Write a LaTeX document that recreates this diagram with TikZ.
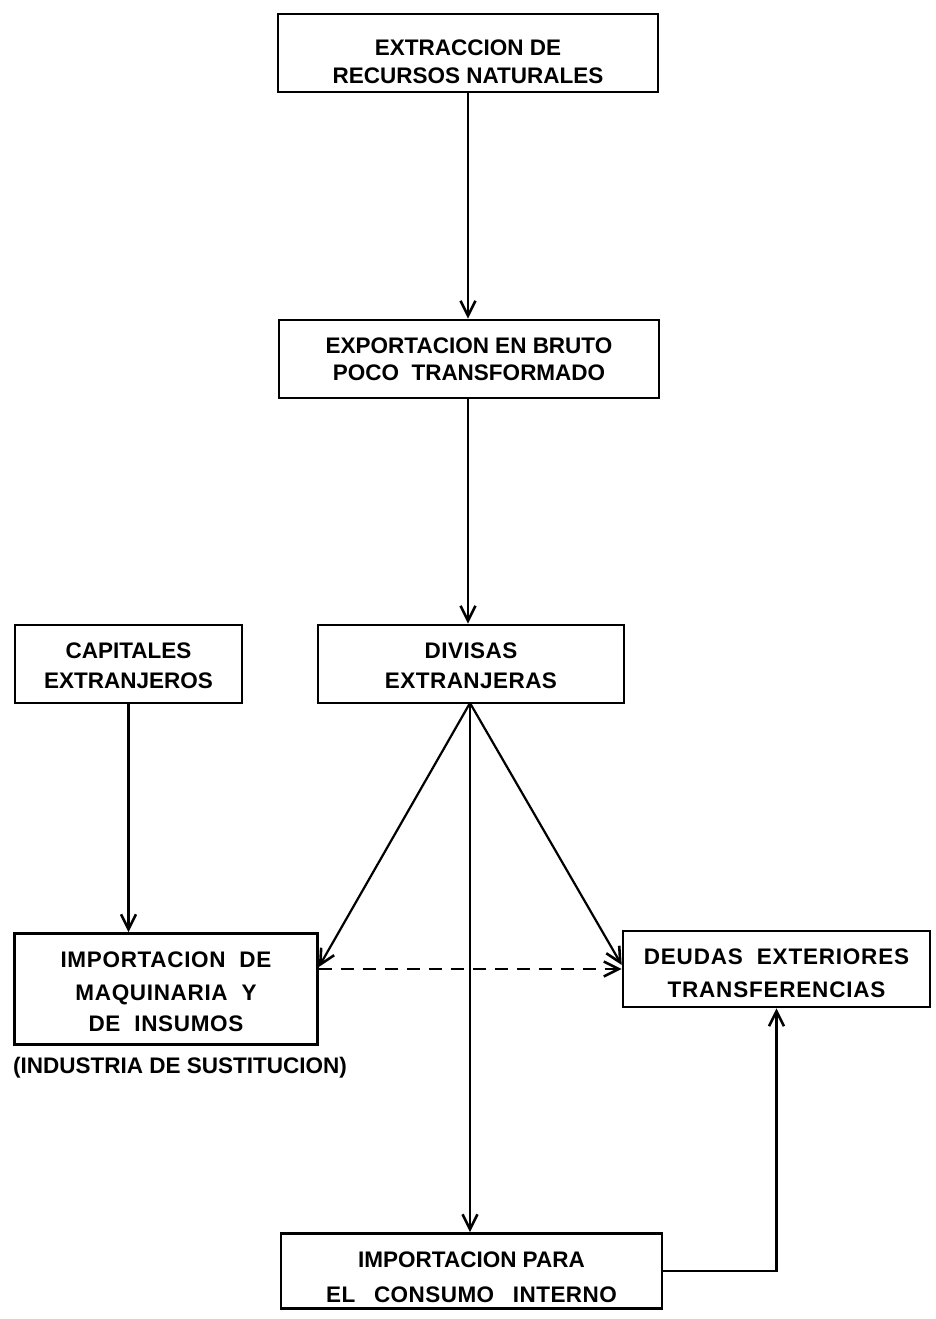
\documentclass[tikz,border=0pt]{standalone}
\usepackage{fontspec}
\setmainfont{Liberation Sans}
\usetikzlibrary{arrows.meta}
\newcommand{\dn}[1]{\rule{0pt}{\dimexpr 15.8pt+2\dimexpr #1\relax\relax}}
\begin{document}
\begin{tikzpicture}[x=1pt,y=-1pt,
  box/.style={draw,line width=2.6pt,align=center,inner sep=0pt,
    font=\fontsize{22.5}{27}\selectfont\bfseries},
  conn/.style={line width=2.2pt,-{Straight Barb[length=15pt,width=15pt,line width=2.6pt]}},
  dconn/.style={conn,dash pattern=on 13pt off 9pt}]
\useasboundingbox (0,0) rectangle (935,1319);
\node[box,minimum width=380,minimum height=78] (ext) at (468,53)
  {\dn{9pt}EXTRACCION DE\\[1pt]RECURSOS NATURALES};
\node[box,minimum width=380,minimum height=78] (exp) at (469,359)
  {EXPORTACION EN BRUTO\\POCO\ \ TRANSFORMADO};
\node[box,minimum width=227,minimum height=78] (cap) at (128.5,664)
  {\dn{2pt}CAPITALES\\[3pt]EXTRANJEROS};
\node[box,minimum width=306,minimum height=78] (div) at (471,664)
  {\dn{2pt}\addfontfeature{LetterSpace=2}DIVISAS\\[3pt]\addfontfeature{LetterSpace=2}EXTRANJERAS};
\node[box,minimum width=303,minimum height=111] (maq) at (166,989)
  {\dn{3pt}\addfontfeature{LetterSpace=3}IMPORTACION\ \ DE\\[6pt]\addfontfeature{LetterSpace=3}MAQUINARIA\ \ Y\\[4pt]\addfontfeature{LetterSpace=3}DE\ \ INSUMOS};
\node[box,minimum width=307,minimum height=76] (deu) at (776.5,969)
  {\dn{4.5pt}\addfontfeature{LetterSpace=3.5}DEUDAS\ \ EXTERIORES\\[6pt]\addfontfeature{LetterSpace=3.5}TRANSFERENCIAS};
\node[box,minimum width=381,minimum height=75] (con) at (471.5,1271)
  {\dn{6.5pt}IMPORTACION\ PARA\\[8pt]\addfontfeature{LetterSpace=2}EL\hspace{12pt} CONSUMO\hspace{12pt} INTERNO};
\node[font=\fontsize{22.5}{27}\selectfont\bfseries,inner sep=0pt] (ind) at (180,1068)
  {(INDUSTRIA DE SUSTITUCION)};
\coordinate (apex) at (470,703);
\draw[conn] (ext.south -| 468,0) -- (exp.north -| 468,0);
\draw[conn] (exp.south -| 468,0) -- (div.north -| 468,0);
\draw[conn] (cap.south) -- (cap.south |- maq.north);
\draw[conn] (apex) -- (maq.east |- 0,967);
\draw[conn] (apex) -- (deu.west |- 0,965);
\draw[conn] (apex) -- (apex |- con.north);
\draw[dconn] (maq.east |- 0,969) -- (deu.west |- 0,969);
\draw[conn] (con.east |- 0,1271) -| (deu.south);
\end{tikzpicture}
\end{document}
